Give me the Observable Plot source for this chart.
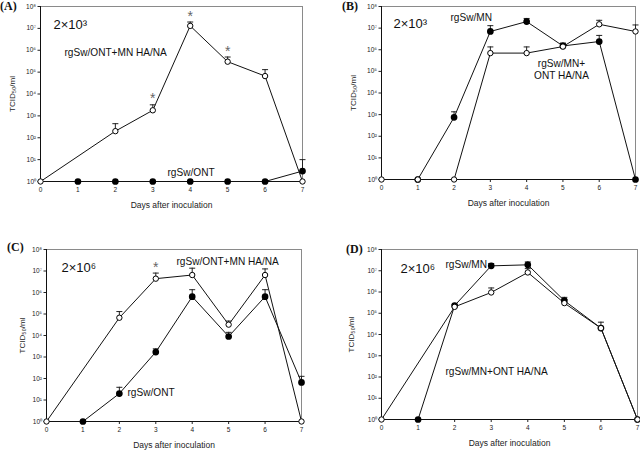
<!DOCTYPE html>
<html>
<head>
<meta charset="utf-8">
<script src="https://cdn.jsdelivr.net/npm/d3@7"></script>
<script src="https://cdn.jsdelivr.net/npm/@observablehq/plot@0.6"></script>
<style>
  html, body { margin: 0; padding: 0; background: white; }
  #wrap { position: relative; width: 640px; height: 450px; font-family: "Liberation Sans", Arial, sans-serif; }
  .panel { position: absolute; width: 320px; height: 225px; }
  .plabel { position: absolute; font-family: "Liberation Serif", "Times New Roman", serif; font-weight: bold; font-size: 12px; line-height: 12px; color: #111; }
</style>
</head>
<body>
<div id="wrap"></div>
<script>
// ---------- data ----------
const dayTicks = [0, 1, 2, 3, 4, 5, 6, 7];
const yTicks = [1, 1e1, 1e2, 1e3, 1e4, 1e5, 1e6, 1e7, 1e8];
const xTitle = "Days after inoculation";
const yTitle = "TCID₅₀/ml";
const panelLabels = ["(A)", "(B)", "(C)", "(D)"];

// Panel A (inoculum 2×10³)
const A_openDays = [0, 2, 3, 4, 5, 6, 7];
const A_open = [1, 2e2, 1.8e3, 1.3e7, 3e5, 6.6e4, 1];
const A_openErr = [null, 4.4e2, 3.2e3, 1.95e7, 4.9e5, 1.3e5, null];
const A_filledDays = [1, 2, 3, 4, 5, 6, 7];
const A_filled = [1, 1, 1, 1, 1, 1, 3];
const A_filledErr = [null, null, null, null, null, null, 10];
const A_stars = [3, 4, 5];

// Panel B (inoculum 2×10³)
const B_openDays = [0, 1, 2, 3, 4, 5, 6, 7];
const B_open = [1, 1, 1, 7e5, 7e5, 1.4e6, 1.5e7, 7e6];
const B_openErr = [null, null, null, 1.35e6, 1.35e6, 2e6, 2.3e7, 1.4e7];
const B_filledDays = [1, 2, 3, 4, 5, 6, 7];
const B_filled = [1, 7.5e2, 7e6, 2e7, 1.5e6, 2.4e6, 1];
const B_filledErr = [null, 1.35e3, 1.3e7, 2.8e7, 2e6, 4.6e6, null];
const B_stars = [];

// Panel C (inoculum 2×10⁶)
const C_openDays = [0, 2, 3, 4, 5, 6, 7];
const C_open = [1, 6.7e4, 4.4e6, 6.5e6, 3.2e4, 6.5e6, 1];
const C_openErr = [null, 1.3e5, 8e6, 1.35e7, 4.7e4, 1.25e7, null];
const C_filledDays = [1, 2, 3, 4, 5, 6, 7];
const C_filled = [1, 20, 1.7e3, 6.4e5, 9e3, 6.4e5, 66];
const C_filledErr = [null, 39, 2.4e3, 1.35e6, 1.4e4, 1.35e6, 126];
const C_stars = [3];

// Panel D (inoculum 2×10⁶)
const D_openDays = [0, 2, 3, 4, 5, 6, 7];
const D_open = [1, 2e5, 9.5e5, 8.3e6, 3e5, 2e4, 1];
const D_openErr = [null, null, 1.55e6, 1.26e7, 4.4e5, 3.8e4, null];
const D_filledDays = [1, 2, 3, 4, 5, 6, 7];
const D_filled = [1, 2.3e5, 1.7e7, 1.9e7, 3.9e5, 2e4, 1];
const D_filledErr = [null, 2.6e5, 2.2e7, 2.6e7, 5.6e5, null, null];
const D_stars = [];

// ---------- helpers ----------
const supDigits = "⁰¹²³⁴⁵⁶⁷⁸⁹";
const sup = n => String(n).split("").map(c => supDigits[+c]).join("");
const rows = (days, vals, errs) => days.map((d, i) => ({day: d, v: vals[i], err: errs[i]}));
const capSymbol = {
  draw(context, size) {
    const r = Math.sqrt(size / Math.PI);
    context.moveTo(-r, 0);
    context.lineTo(r, 0);
  }
};

function makePanel(cfg) {
  const openRows = rows(cfg.openDays, cfg.open, cfg.openErr);
  const filledRows = rows(cfg.filledDays, cfg.filled, cfg.filledErr);
  const errRows = [...filledRows, ...openRows].filter(d => d.err != null);
  const starRows = openRows.filter(d => cfg.stars.includes(d.day));
  const font = "Liberation Sans, Arial, sans-serif";
  const marks = [
    Plot.frame({stroke: "#8a8a8a", strokeWidth: 1}),
    Plot.ruleX([0], {stroke: "#111"}),
    Plot.ruleY([1], {stroke: "#111"}),
    Plot.line(filledRows, {x: "day", y: "v", stroke: "#111", strokeWidth: 1}),
    Plot.line(openRows, {x: "day", y: "v", stroke: "#111", strokeWidth: 1}),
    Plot.ruleX(errRows, {x: "day", y1: "v", y2: "err", stroke: "#222", strokeWidth: 1}),
    Plot.dot(errRows, {x: "day", y: "err", symbol: capSymbol, r: 3, stroke: "#222", fill: "none", strokeWidth: 1}),
    Plot.dot(filledRows, {x: "day", y: "v", r: 2.6, fill: "#000", stroke: "#000"}),
    Plot.dot(openRows, {x: "day", y: "v", r: 2.7, fill: "white", stroke: "#000", strokeWidth: 1}),
    Plot.text(starRows, {x: "day", y: "err", text: () => "*", dy: -6, fontSize: 14, fill: "#666"}),
    Plot.text([xTitle], {frameAnchor: "bottom", dy: 24, lineAnchor: "middle", fontSize: 8.5, fill: "#222", fontFamily: font}),
    Plot.text([yTitle], {frameAnchor: "left", dx: cfg.yTitleDx, rotate: -90, lineAnchor: "middle", textAnchor: "middle", fontSize: 8, fill: "#222", fontFamily: font}),
    ...cfg.labels.map(l => Plot.text([l.text], {
      frameAnchor: "top-left", dx: l.dx, dy: l.dy, textAnchor: l.anchor || "start",
      lineAnchor: "middle", fontSize: l.size || 10.1, lineHeight: 1.15, fill: "#111", fontFamily: font
    }))
  ];
  return Plot.plot({
    width: 320,
    height: 225,
    marginTop: cfg.m[0], marginRight: cfg.m[1], marginBottom: cfg.m[2], marginLeft: cfg.m[3],
    style: {fontSize: "6.5px", fontFamily: font, overflow: "visible", background: "white", color: "#222"},
    x: {domain: [0, 7], ticks: dayTicks, tickFormat: d => String(d), tickSize: 3, tickPadding: 3, label: null},
    y: {type: "log", domain: [1, 1e8], ticks: yTicks, tickFormat: d => "10" + sup(Math.round(Math.log10(d))), tickSize: 2.5, tickPadding: 2, label: null},
    marks
  });
}

const panels = [
  {pos: [0, 0], m: [6, 18, 44, 40], yTitleDx: -28,
   openDays: A_openDays, open: A_open, openErr: A_openErr,
   filledDays: A_filledDays, filled: A_filled, filledErr: A_filledErr, stars: A_stars,
   labels: [
     {text: "2×10" + sup(3), dx: 13, dy: 18, size: 13},
     {text: "rgSw/ONT+MN HA/NA", dx: 24, dy: 46},
     {text: "rgSw/ONT", dx: 127, dy: 166}
   ]},
  {pos: [320, 0], m: [6, 5, 46, 61], yTitleDx: -28,
   openDays: B_openDays, open: B_open, openErr: B_openErr,
   filledDays: B_filledDays, filled: B_filled, filledErr: B_filledErr, stars: B_stars,
   labels: [
     {text: "2×10" + sup(3), dx: 12, dy: 17, size: 13},
     {text: "rgSw/MN", dx: 69, dy: 11},
     {text: "rgSw/MN+\nONT HA/NA", dx: 180, dy: 63, anchor: "middle"}
   ]},
  {pos: [0, 225], m: [24, 19, 29, 46], yTitleDx: -24,
   openDays: C_openDays, open: C_open, openErr: C_openErr,
   filledDays: C_filledDays, filled: C_filled, filledErr: C_filledErr, stars: C_stars,
   labels: [
     {text: "2×10" + sup(6), dx: 15, dy: 18, size: 13},
     {text: "rgSw/ONT+MN HA/NA", dx: 130, dy: 12},
     {text: "rgSw/ONT", dx: 81, dy: 143}
   ]},
  {pos: [320, 225], m: [24, 3, 31, 61], yTitleDx: -30,
   openDays: D_openDays, open: D_open, openErr: D_openErr,
   filledDays: D_filledDays, filled: D_filled, filledErr: D_filledErr, stars: D_stars,
   labels: [
     {text: "2×10" + sup(6), dx: 19, dy: 19, size: 13},
     {text: "rgSw/MN", dx: 64, dy: 15},
     {text: "rgSw/MN+ONT HA/NA", dx: 64, dy: 122}
   ]}
];

const wrap = document.getElementById("wrap");
const labelPos = [[0, 0], [342, 0], [7, 241], [346, 243]];
panels.forEach((cfg, i) => {
  const div = document.createElement("div");
  div.className = "panel";
  div.style.left = cfg.pos[0] + "px";
  div.style.top = cfg.pos[1] + "px";
  div.appendChild(makePanel(cfg));
  wrap.appendChild(div);
});
panelLabels.forEach((t, i) => {
  const d = document.createElement("div");
  d.className = "plabel";
  d.textContent = t;
  d.style.left = labelPos[i][0] + "px";
  d.style.top = labelPos[i][1] + "px";
  wrap.appendChild(d);
});
</script>
</body>
</html>
